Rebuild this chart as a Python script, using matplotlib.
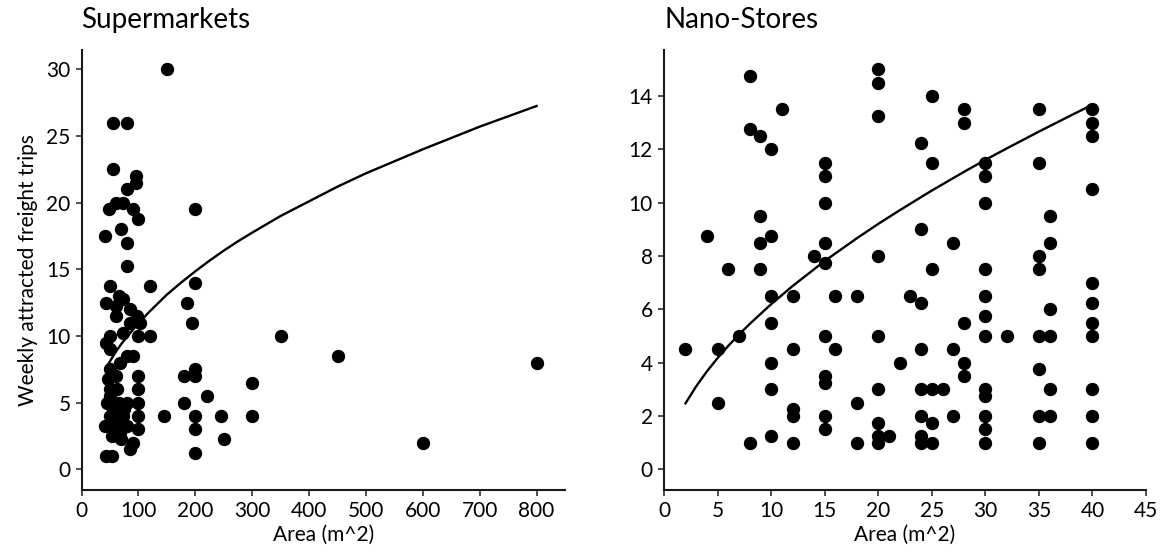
import matplotlib
matplotlib.use("Agg")
import matplotlib.pyplot as plt

plt.rcParams['font.family'] = ['Lato', 'DejaVu Sans']

# Supermarkets: store area (m^2) vs weekly attracted freight trips
sup_area = [150, 55, 80, 55, 95, 95, 80, 48, 60, 72, 90, 100, 42, 70, 80, 80, 200,
            50, 120, 43, 65, 73, 60, 85, 60, 97, 85, 103, 73, 50, 100, 120, 43, 50,
            90, 80, 68, 50, 60, 100, 50, 62, 100, 50, 45, 65, 80, 100, 50, 73, 100,
            145, 41, 62, 80, 100, 53, 70, 90, 85, 43, 53,
            47, 55, 75, 58, 67,
            200, 185, 195, 350, 450, 200, 180, 200, 300, 220, 180, 200, 245, 300,
            200, 250, 200, 600, 800]
sup_trips = [30, 26, 26, 22.5, 22, 21.5, 21, 19.5, 20, 20, 19.5, 18.75, 17.5, 18, 17, 15.25, 19.5,
             13.75, 13.75, 12.5, 13, 12.75, 12.25, 12, 11.5, 11.5, 11, 11, 10.25, 10, 10, 10, 9.5, 9,
             8.5, 8.5, 8, 7.5, 7, 7, 6, 6, 6, 5.5, 5, 5, 5, 5, 4, 4, 4,
             4, 3.25, 3, 3.25, 3, 2.5, 2.25, 2, 1.5, 1, 1,
             6.75, 4.5, 4.5, 3.5, 2.75,
             14, 12.5, 11, 10, 8.5, 7.5, 7, 7, 6.5, 5.5, 5, 4, 4, 4,
             3, 2.25, 1.25, 2, 8]

# trend line
sup_fit_x = [43, 50, 60, 70, 80, 100, 120, 150, 175, 200, 225, 250, 275, 300,
             350, 400, 450, 500, 600, 700, 800]
sup_fit_y = [7.6, 8.1, 8.8, 9.4, 9.95, 10.95, 11.85, 13.1, 14.0, 14.85, 15.65, 16.4,
             17.1, 17.75, 19.0, 20.1, 21.2, 22.2, 24.0, 25.7, 27.25]

# Nano-stores
nano_area = [2, 4, 5, 5, 6, 7, 8, 8, 8, 9, 9, 9, 9,
             10, 10, 10, 10, 10, 10, 10, 11, 12, 12, 12, 12, 12, 14,
             15, 15, 15, 15, 15, 15, 15, 15, 15, 15, 16, 16, 18, 18, 18,
             20, 20, 20, 20, 20, 20, 20, 20, 20, 21, 22, 23,
             24, 24, 24, 24, 24, 24, 24, 24, 25, 25, 25, 25, 25, 25, 26,
             27, 27, 27, 28, 28, 28, 28, 28,
             30, 30, 30, 30, 30, 30, 30, 30, 30, 30, 30, 30, 32,
             35, 35, 35, 35, 35, 35, 35, 35, 36, 36, 36, 36, 36, 36,
             40, 40, 40, 40, 40, 40, 40, 40, 40, 40, 40]
nano_trips = [4.5, 8.75, 4.5, 2.5, 7.5, 5, 14.75, 12.75, 1, 12.5, 9.5, 8.5, 7.5,
              12, 8.75, 6.5, 5.5, 4, 3, 1.25, 13.5, 6.5, 4.5, 2.25, 2, 1, 8,
              11.5, 11, 10, 8.5, 7.75, 5, 3.5, 3.25, 2, 1.5, 6.5, 4.5, 6.5, 2.5, 1,
              15, 14.5, 13.25, 8, 5, 3, 1.75, 1.25, 1, 1.25, 4, 6.5,
              12.25, 9, 6.25, 4.5, 3, 2, 1.25, 1, 14, 11.5, 7.5, 3, 1.75, 1, 3,
              8.5, 4.5, 2, 13.5, 13, 5.5, 4, 3.5,
              11.5, 11, 10, 7.5, 6.5, 5.75, 5, 3, 2.75, 2, 1.5, 1, 5,
              13.5, 11.5, 8, 7.5, 5, 3.75, 2, 1, 9.5, 8.5, 6, 5, 3, 2,
              13.5, 13, 12.5, 10.5, 7, 6.25, 5.5, 5, 3, 2, 1]

nano_fit_x = [2, 3, 4, 5, 6, 7, 8, 10, 12, 15, 18, 20, 22, 25, 28, 30, 32, 35, 38, 40]
nano_fit_y = [2.47, 3.11, 3.67, 4.17, 4.63, 5.05, 5.45, 6.19, 6.87, 7.81, 8.66, 9.2,
              9.71, 10.45, 11.15, 11.6, 12.03, 12.66, 13.27, 13.67]

fig = plt.figure(figsize=(11.65, 5.58), dpi=100)
ax1 = fig.add_axes([0.070, 0.1227, 0.415, 0.7877])
ax2 = fig.add_axes([0.570, 0.1227, 0.4137, 0.7877])

for ax in (ax1, ax2):
    for s in ('top', 'right'):
        ax.spines[s].set_visible(False)
    for s in ('left', 'bottom'):
        ax.spines[s].set_linewidth(1.5)
        ax.spines[s].set_color('#1a1a1a')
    ax.tick_params(direction='out', length=4, width=1.3, color='#404040',
                   labelsize=15, pad=4)

ax1.plot(sup_area, sup_trips, 'o', ms=8.6, color='black')
ax1.plot(sup_fit_x, sup_fit_y, color='black', lw=1.7)
ax1.set_xlim(0, 850)
ax1.set_ylim(-1.52, 31.45)
ax1.set_xticks(range(0, 801, 100))
ax1.set_yticks(range(0, 31, 5))
ax1.set_xlabel('Area (m^2)', fontsize=15, labelpad=3)
ax1.set_ylabel('Weekly attracted freight trips', fontsize=15, labelpad=6)

ax2.plot(nano_area, nano_trips, 'o', ms=8.6, color='black')
ax2.plot(nano_fit_x, nano_fit_y, color='black', lw=1.7)
ax2.set_xlim(0, 45)
ax2.set_ylim(-0.76, 15.72)
ax2.set_xticks(range(0, 46, 5))
ax2.set_yticks(range(0, 15, 2))
ax2.set_xlabel('Area (m^2)', fontsize=15, labelpad=3)

fig.text(0.070, 0.95, 'Supermarkets', fontsize=20, va='baseline', ha='left')
fig.text(0.570, 0.95, 'Nano-Stores', fontsize=20, va='baseline', ha='left')

fig.savefig('out.png', dpi=100)
